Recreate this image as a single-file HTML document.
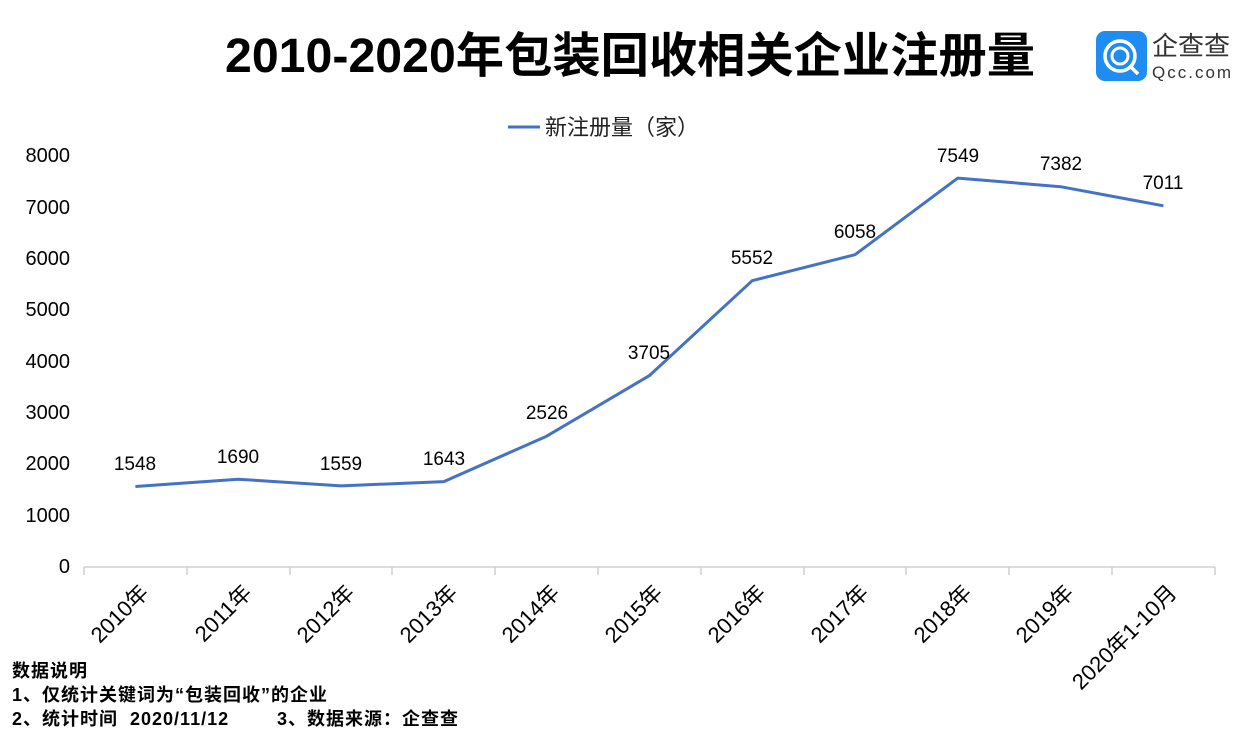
<!DOCTYPE html>
<html><head><meta charset="utf-8"><style>
body{margin:0;background:#fff;}
svg{display:block;font-family:"Liberation Sans","Noto Sans CJK SC",sans-serif;}
</style></head><body>
<svg width="1238" height="751" viewBox="0 0 1238 751" xmlns="http://www.w3.org/2000/svg">
<text x="630" y="72" text-anchor="middle" font-size="48" font-weight="bold" fill="#000" textLength="810" lengthAdjust="spacingAndGlyphs">2010-2020年包装回收相关企业注册量</text>
<rect x="1096" y="31" width="51" height="50" rx="9" fill="#1e8cf0"/>
<circle cx="1120" cy="56" r="15" fill="none" stroke="#fff" stroke-width="3.5"/>
<circle cx="1120" cy="56" r="8" fill="none" stroke="#fff" stroke-width="3"/>
<line x1="1130" y1="66" x2="1138" y2="74" stroke="#fff" stroke-width="3.5"/>
<text x="1152" y="55" font-size="26" fill="#333">企查查</text>
<text x="1152" y="78" font-size="17" fill="#333" letter-spacing="2">Qcc.com</text>
<line x1="508" y1="127" x2="540" y2="127" stroke="#4472c4" stroke-width="3"/>
<text x="545" y="135" font-size="22" fill="#222">新注册量（家）</text>
<g font-size="20" fill="#000" text-anchor="end">
<text x="70" y="162">8000</text><text x="70" y="214">7000</text><text x="70" y="265">6000</text>
<text x="70" y="316">5000</text><text x="70" y="368">4000</text><text x="70" y="419">3000</text>
<text x="70" y="470">2000</text><text x="70" y="522">1000</text><text x="70" y="573">0</text>
</g>
<line x1="84" y1="567" x2="1215" y2="567" stroke="#d0d0d0" stroke-width="1.5"/>
<g stroke="#d0d0d0" stroke-width="1.5">
<line x1="84" y1="567" x2="84" y2="575"/><line x1="187" y1="567" x2="187" y2="575"/><line x1="290" y1="567" x2="290" y2="575"/><line x1="392" y1="567" x2="392" y2="575"/><line x1="495" y1="567" x2="495" y2="575"/><line x1="598" y1="567" x2="598" y2="575"/><line x1="701" y1="567" x2="701" y2="575"/><line x1="804" y1="567" x2="804" y2="575"/><line x1="906" y1="567" x2="906" y2="575"/><line x1="1009" y1="567" x2="1009" y2="575"/><line x1="1112" y1="567" x2="1112" y2="575"/><line x1="1215" y1="567" x2="1215" y2="575"/>
</g>
<polyline fill="none" stroke="#4472c4" stroke-width="3" stroke-linejoin="round" points="135.4,486.5 238.2,479.2 341,485.9 443.8,481.6 546.6,436.2 649.4,375.6 752.2,280.7 855,254.7 957.8,178.1 1060.6,186.7 1163.4,205.8"/>
<g font-size="19" fill="#000" text-anchor="middle">
<text x="135" y="470">1548</text><text x="238" y="463">1690</text><text x="341" y="470">1559</text><text x="444" y="465">1643</text>
<text x="547" y="419">2526</text><text x="649" y="359">3705</text><text x="752" y="264">5552</text><text x="855" y="238">6058</text>
<text x="958" y="162">7549</text><text x="1061" y="170">7382</text><text x="1163" y="189">7011</text>
</g>
<g font-size="22" fill="#000" text-anchor="end">
<text transform="translate(150,594) rotate(-45)">2010年</text>
<text transform="translate(253,594) rotate(-45)">2011年</text>
<text transform="translate(356,594) rotate(-45)">2012年</text>
<text transform="translate(459,594) rotate(-45)">2013年</text>
<text transform="translate(561,594) rotate(-45)">2014年</text>
<text transform="translate(664,594) rotate(-45)">2015年</text>
<text transform="translate(767,594) rotate(-45)">2016年</text>
<text transform="translate(870,594) rotate(-45)">2017年</text>
<text transform="translate(973,594) rotate(-45)">2018年</text>
<text transform="translate(1075,594) rotate(-45)">2019年</text>
<text transform="translate(1178,594) rotate(-45)">2020年1-10月</text>
</g>
<g font-size="18" font-weight="bold" fill="#000" letter-spacing="1">
<text x="12" y="677">数据说明</text>
<text x="12" y="701">1、仅统计关键词为“包装回收”的企业</text>
<text x="12" y="725" xml:space="preserve">2、统计时间  2020/11/12</text>
<text x="277" y="725">3、数据来源：企查查</text>
</g>
</svg>
</body></html>
